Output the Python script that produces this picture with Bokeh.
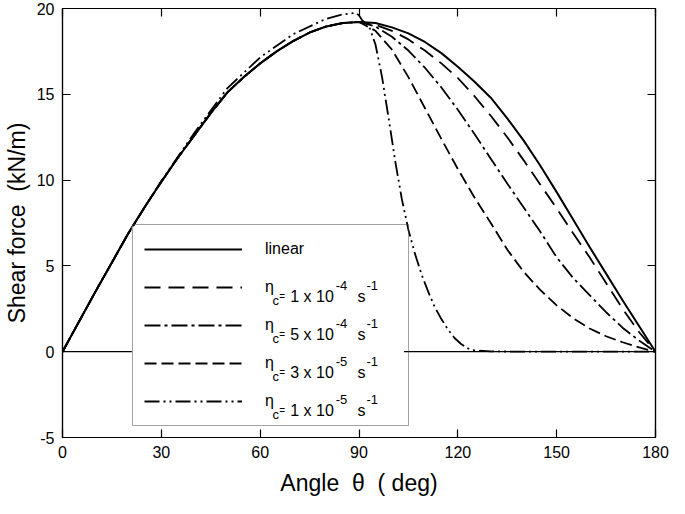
from bokeh.plotting import figure
from bokeh.models import Range1d, FixedTicker, LinearAxis, Span, Legend, LegendItem, ColumnDataSource
from bokeh.core.properties import value
from bokeh.embed import file_html
from bokeh.resources import INLINE

# ---------------- data ----------------
theta_left = [0, 5, 10, 15, 20, 25, 30, 35, 40, 45, 50, 55, 60, 65, 70, 75, 80, 85, 90]
linear_left = [0, 1.75, 3.5, 5.2, 6.9, 8.45, 9.9, 11.3, 12.6, 13.9, 15.1, 16.0, 16.8, 17.5,
               18.1, 18.6, 18.95, 19.15, 19.22]

theta_right = [95, 100, 105, 110, 115, 120, 125, 130, 135, 140, 145, 150, 155, 160, 165, 170, 175, 180]
linear_right = [19.15, 18.9, 18.55, 18.05, 17.4, 16.6, 15.75, 14.8, 13.6, 12.3, 10.85, 9.3, 7.7,
                6.1, 4.55, 3.0, 1.5, 0]
eta_1e4_right = [19.05, 18.7, 18.2, 17.55, 16.8, 15.95, 14.9, 13.75, 12.5, 11.15, 9.75, 8.35, 6.9,
                 5.5, 4.0, 2.5, 1.15, 0]
eta_5e4_right = [18.95, 18.35, 17.55, 16.55, 15.4, 14.1, 12.7, 11.25, 9.8, 8.4, 7.0, 5.5, 4.3,
                 3.3, 2.3, 1.4, 0.65, 0]
eta_3e5_right = [18.7, 17.6, 16.0, 14.2, 12.4, 10.65, 9.0, 7.5, 5.95, 4.65, 3.6, 2.7, 1.95,
                 1.35, 0.9, 0.55, 0.25, 0]

theta_1e5 = [0, 10, 20, 30, 40, 50, 60, 70, 80, 85, 89, 90, 91, 93, 95, 97, 99, 101, 103, 105,
             107, 109, 111, 113, 115, 117, 119, 121, 123, 125, 130, 140, 150, 160, 170, 180]
eta_1e5 = [0, 3.5, 6.9, 9.95, 12.75, 15.35, 17.15, 18.5, 19.4, 19.65, 19.75, 19.6, 19.3, 19.0,
           17.9, 16.0, 13.6, 11.1, 8.9, 7.1, 5.7, 4.5, 3.5, 2.6, 1.9, 1.3, 0.8, 0.45, 0.2, 0.08,
           0.02, 0, 0, 0, 0, 0]

x_ticks = [0, 30, 60, 90, 120, 150, 180]
y_ticks = [-5, 0, 5, 10, 15, 20]
y_tick_labels = {-5: "-5", 0: "0", 5: "5", 10: "10", 15: "15", 20: "20"}

legend_first = ["linear", "η", "η", "η", "η"]
legend_coef = ["1", "5", "3", "1"]
legend_exp = ["-4", "-4", "-5", "-5"]

# ---------------- figure ----------------
FONT = "Liberation Sans"
W, H = 669, 498
BL, BR, BT, BB = 56, 14, 8, 61

p = figure(width=W, height=H, x_range=Range1d(0, 180), y_range=Range1d(-5, 20),
           output_backend="svg", toolbar_location=None,
           min_border_left=BL, min_border_right=BR, min_border_top=BT, min_border_bottom=BB)
p.background_fill_color = "white"
p.border_fill_color = "white"
p.outline_line_color = "black"
p.outline_line_width = 1.2
p.xgrid.visible = False
p.ygrid.visible = False


def style_axis(ax, ticks, labels=True):
    ax.ticker = FixedTicker(ticks=ticks)
    ax.major_tick_in = 8
    ax.major_tick_out = 0
    ax.minor_tick_line_color = None
    ax.major_tick_line_color = "black"
    ax.major_tick_line_width = 1.2
    ax.axis_line_color = "black"
    ax.axis_line_width = 1.2
    ax.major_label_text_font = FONT
    ax.major_label_text_color = "black"
    ax.major_label_text_font_size = "16px"
    if not labels:
        ax.major_label_overrides = {t: "" for t in ticks}
        ax.major_label_standoff = 0


style_axis(p.xaxis[0], x_ticks)
style_axis(p.yaxis[0], y_ticks)
p.yaxis[0].major_label_overrides = y_tick_labels
p.xaxis.major_label_standoff = 8
p.yaxis.major_label_standoff = 8
p.xaxis.axis_label = "Angle\u00a0\u00a0θ\u00a0\u00a0(\u00a0deg)"
p.yaxis.axis_label = "Shear force\u00a0\u00a0(kN/m)"
for ax in (p.xaxis[0], p.yaxis[0]):
    ax.axis_label_text_font = FONT
    ax.axis_label_text_font_size = "23px"
    ax.axis_label_text_font_style = "normal"
    ax.axis_label_text_color = "black"
p.xaxis.axis_label_standoff = 9
p.yaxis.axis_label_standoff = 4

top_ax = LinearAxis()
style_axis(top_ax, x_ticks, labels=False)
p.add_layout(top_ax, "above")
right_ax = LinearAxis()
style_axis(right_ax, y_ticks, labels=False)
p.add_layout(right_ax, "right")

# zero line
p.add_layout(Span(location=0, dimension="width", line_color="black", line_width=1.2, level="underlay"))

# ---------------- curves ----------------
LW = 1.8
r_lin = p.line(theta_left + theta_right, linear_left + linear_right, line_color="black", line_width=2.0)
r_1e4 = p.line(theta_left + theta_right, linear_left + eta_1e4_right, line_color="black",
               line_width=LW, line_dash="16 8")
r_5e4 = p.line(theta_left + theta_right, linear_left + eta_5e4_right, line_color="black",
               line_width=LW, line_dash="16 4 3 4")
r_3e5 = p.line(theta_left + theta_right, linear_left + eta_3e5_right, line_color="black",
               line_width=LW, line_dash="12 5")
r_1e5 = p.line(theta_1e5, eta_1e5, line_color="black", line_width=LW, line_dash="15 4 2 4 2 4")

# ---------------- legend ----------------
frame_w = W - BL - BR
frame_h = H - BT - BB
px_per_x = frame_w / 180.0
px_per_y = frame_h / 25.0

LEG_X, LEG_Y = 70, 11            # px from frame bottom-left
PAD, GW, GH, SP, STANDOFF, LABW = 11, 98, 26, 12, 23, 132
LEG_W = 2 * PAD + GW + STANDOFF + LABW
n_items = 5
leg_h = 2 * PAD + n_items * GH + (n_items - 1) * SP
box_top = frame_h - LEG_Y - leg_h   # px below frame top


def dx_to_data(px):
    return px / px_per_x


def dy_to_data(px_from_top):
    return 20 - px_from_top / px_per_y


# white backing under the legend (hides the curves behind it)
p.quad(left=[dx_to_data(LEG_X)], right=[dx_to_data(LEG_X + LEG_W)],
       top=[dy_to_data(box_top)], bottom=[dy_to_data(box_top + leg_h)],
       fill_color="white", line_color=None)

# rich-text parts of the legend labels
tx, ty, tt, ts = [], [], [], []


def put(text, dx, row, dy, size):
    tx.append(dx_to_data(LEG_X + dx))
    ty.append(dy_to_data(box_top + PAD + GH / 2 + row * (GH + SP) + dy))
    tt.append(text)
    ts.append(size)


for i in range(4):
    row = i + 1
    put("c", 142, row, 11.5, "13px")
    put("=", 149, row, 8, "10px")
    put(legend_coef[i] + " x 10", 160, row, 7.5, "16px")
    put(legend_exp[i], 206, row, -3.5, "13px")
    put("s", 228, row, 7.5, "16px")
    put("-1", 237, row, -3.5, "13px")

src = ColumnDataSource(dict(x=tx, y=ty, text=tt, size=ts))
p.text(x="x", y="y", text="text", source=src, text_font=value(FONT), text_font_size="size",
       text_color="black", text_baseline="alphabetic", text_align="left")

legend = Legend(items=[LegendItem(label=lab, renderers=[r]) for lab, r in
                       zip(legend_first, (r_lin, r_1e4, r_5e4, r_3e5, r_1e5))],
                location=(LEG_X, LEG_Y), padding=PAD, glyph_width=GW, glyph_height=GH, spacing=SP,
                label_standoff=STANDOFF, label_width=LABW, margin=0,
                border_line_color="#444444", border_line_width=1.2, background_fill_alpha=0.0,
                label_text_font=FONT, label_text_font_size="16px", label_text_color="black")
p.add_layout(legend)

open("out.html", "w").write(file_html(p, INLINE))
